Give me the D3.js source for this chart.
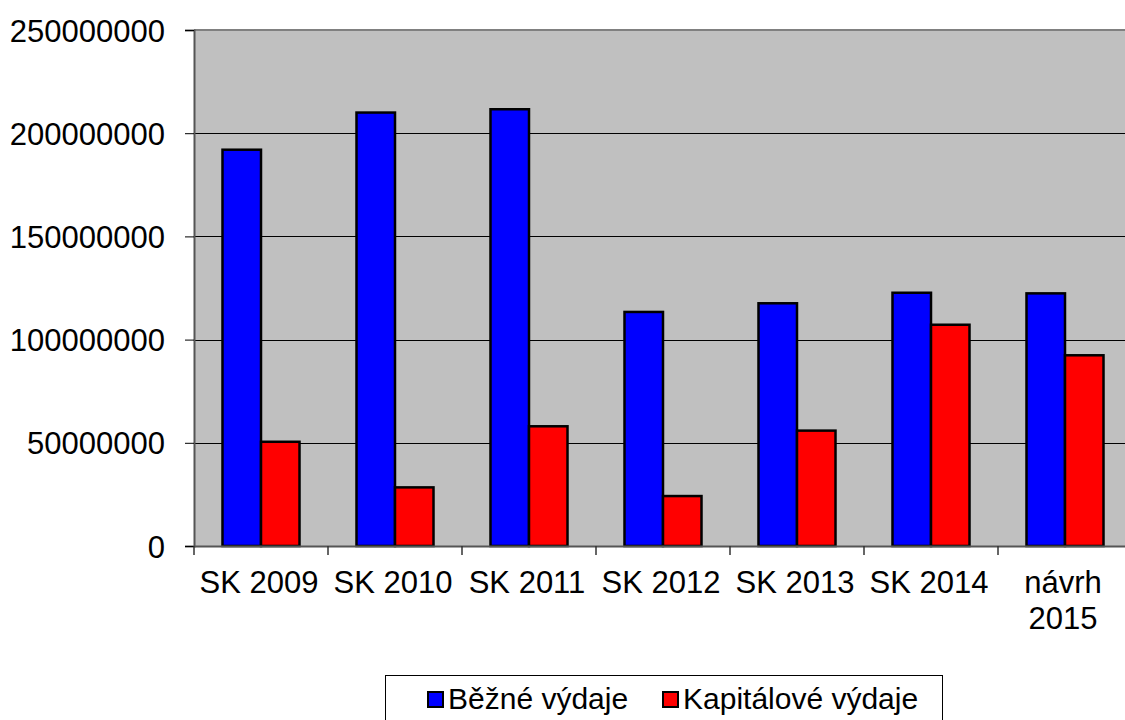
<!DOCTYPE html>
<html>
<head>
<meta charset="utf-8">
<script src="https://cdn.jsdelivr.net/npm/d3@7"></script>
<style>
  body { margin: 0; background: #fff; }
  svg text { font-family: "Liberation Sans", Arial, sans-serif; fill: #000; }
</style>
</head>
<body>
<div id="chart"></div>
<script>
// Data
const categories = ["SK 2009", "SK 2010", "SK 2011", "SK 2012", "SK 2013", "SK 2014", "návrh\n2015"];
const seriesNames = ["Běžné výdaje", "Kapitálové výdaje"];
const beznaValues = [192000000, 210000000, 211600000, 113400000, 117600000, 122700000, 122400000];
const kapitalValues = [50500000, 28400000, 58000000, 24200000, 55900000, 107200000, 92400000];
const yTicks = [0, 50000000, 100000000, 150000000, 200000000, 250000000];
const colors = ["#0000ff", "#ff0000"];

const WIDTH = 1125;
const HEIGHT = 720;
const plot = { left: 194, right: 1132, top: 30, bottom: 546 };

const svg = d3.select("#chart")
    .append("svg")
    .attr("width", WIDTH)
    .attr("height", HEIGHT);

const x = d3.scaleBand()
    .domain(categories)
    .range([plot.left, plot.right])
    .padding(0);

const xInner = d3.scaleBand()
    .domain(seriesNames)
    .range([0, x.bandwidth()])
    .paddingInner(0)
    .paddingOuter(0.74);

const y = d3.scaleLinear()
    .domain([0, 250000000])
    .range([plot.bottom, plot.top]);

// Plot background
svg.append("rect")
    .attr("x", plot.left)
    .attr("y", plot.top)
    .attr("width", plot.right - plot.left)
    .attr("height", plot.bottom - plot.top)
    .attr("fill", "#c0c0c0");

// Gridlines
svg.append("g")
    .selectAll("line")
    .data(yTicks.filter(d => d > 0 && d < 250000000))
    .enter()
    .append("line")
    .attr("x1", plot.left)
    .attr("x2", plot.right)
    .attr("y1", d => Math.round(y(d)) + 0.5)
    .attr("y2", d => Math.round(y(d)) + 0.5)
    .attr("stroke", "#000")
    .attr("stroke-width", 1);

// Top border
svg.append("line")
    .attr("x1", plot.left)
    .attr("x2", plot.right)
    .attr("y1", plot.top)
    .attr("y2", plot.top)
    .attr("stroke", "#808080")
    .attr("stroke-width", 2);

// Bars
const rows = categories.map((c, i) => ({ cat: c, values: [beznaValues[i], kapitalValues[i]] }));

const groups = svg.append("g")
    .selectAll("g")
    .data(rows)
    .enter()
    .append("g")
    .attr("transform", d => `translate(${x(d.cat)},0)`);

groups.selectAll("rect")
    .data(d => d.values.map((v, k) => ({ key: seriesNames[k], value: v, color: colors[k] })))
    .enter()
    .append("rect")
    .attr("x", d => xInner(d.key))
    .attr("y", d => y(d.value))
    .attr("width", xInner.bandwidth())
    .attr("height", d => y(0) - y(d.value))
    .attr("fill", d => d.color)
    .attr("stroke", "#000")
    .attr("stroke-width", 2.5);

// Y axis
const yAxis = svg.append("g")
    .attr("transform", `translate(${plot.left},0)`)
    .call(d3.axisLeft(y).tickValues(yTicks).tickSize(9).tickPadding(20).tickFormat(d3.format("d")));
yAxis.select(".domain").attr("stroke", "#555").attr("stroke-width", 2);
yAxis.selectAll(".tick line").attr("stroke", "#000");
yAxis.selectAll(".tick text")
    .style("font-size", "31px")
    .attr("dy", "0.36em");

// X axis
const xAxis = svg.append("g")
    .attr("transform", `translate(0,${plot.bottom})`)
    .call(d3.axisBottom(x).tickSize(0).tickFormat(""));
xAxis.select(".domain").attr("stroke", "#555").attr("stroke-width", 2);

// Category separator ticks
svg.append("g")
    .selectAll("line")
    .data(categories)
    .enter()
    .append("line")
    .attr("x1", d => x(d))
    .attr("x2", d => x(d))
    .attr("y1", plot.bottom)
    .attr("y2", plot.bottom + 9)
    .attr("stroke", "#333")
    .attr("stroke-width", 1.5);

// Category labels
const labels = svg.append("g")
    .selectAll("text")
    .data(categories)
    .enter()
    .append("text")
    .attr("text-anchor", "middle")
    .style("font-size", "31px")
    .attr("x", d => x(d) + x.bandwidth() / 2)
    .attr("y", 593);

labels.selectAll("tspan")
    .data(d => d.split("\n").map(t => ({ t, c: d })))
    .enter()
    .append("tspan")
    .attr("x", d => x(d.c) + x.bandwidth() / 2 - 2)
    .attr("dy", (d, i) => i === 0 ? 0 : 36)
    .text(d => d.t);

// Legend
const legend = svg.append("g");
legend.append("rect")
    .attr("x", 385.5)
    .attr("y", 675.5)
    .attr("width", 557)
    .attr("height", 60)
    .attr("fill", "#fff")
    .attr("stroke", "#000")
    .attr("stroke-width", 1);

const legendX = [428, 663];
seriesNames.forEach((name, i) => {
    legend.append("rect")
        .attr("x", legendX[i])
        .attr("y", 692)
        .attr("width", 15)
        .attr("height", 15)
        .attr("fill", colors[i])
        .attr("stroke", "#000")
        .attr("stroke-width", 2);
    legend.append("text")
        .attr("x", legendX[i] + 20)
        .attr("y", 709)
        .style("font-size", "30px")
        .text(name);
});
</script>
</body>
</html>
